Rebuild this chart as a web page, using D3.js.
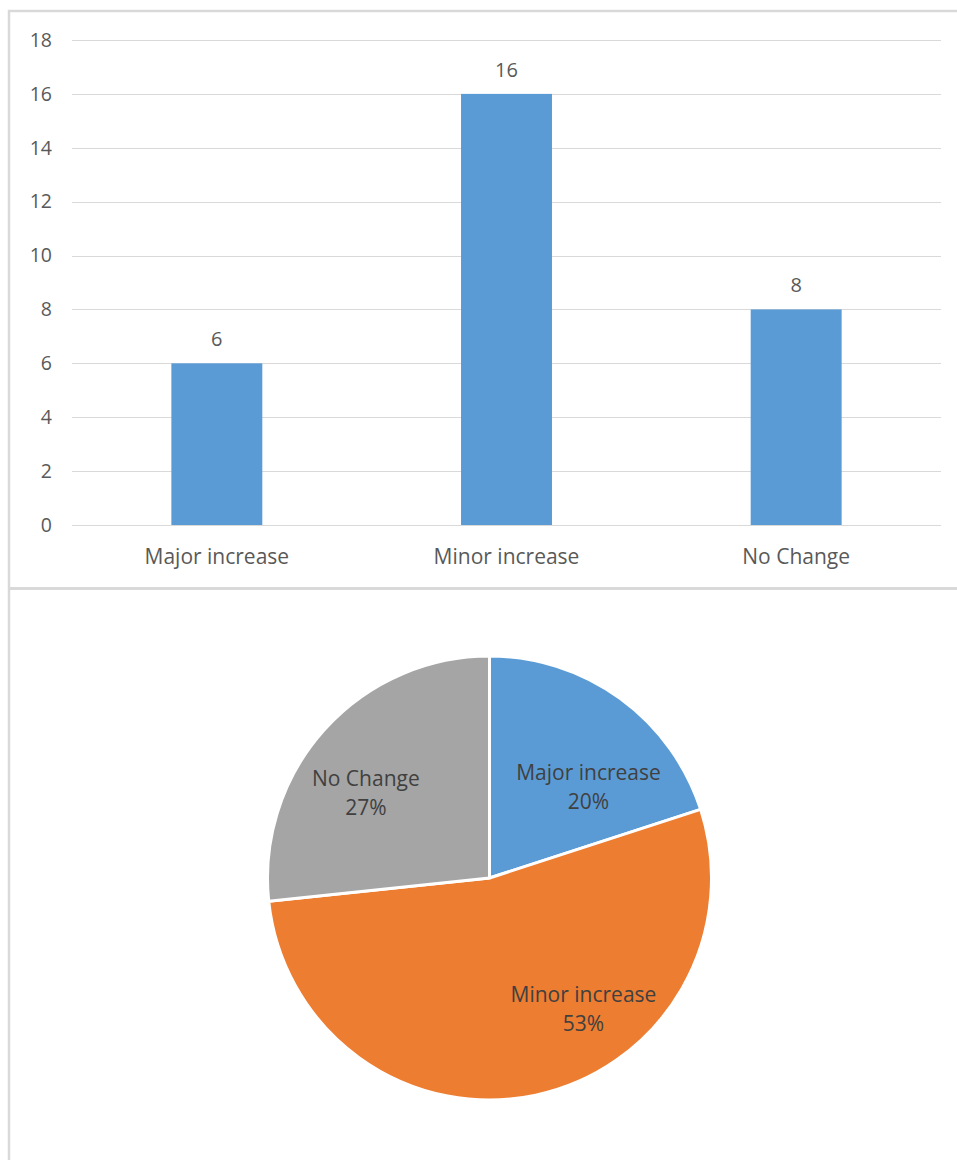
<!DOCTYPE html>
<html>
<head>
<meta charset="utf-8">
<script src="https://cdn.jsdelivr.net/npm/d3@7"></script>
<style>
  html, body { margin: 0; padding: 0; background: #ffffff; }
  svg { display: block; }
  text { font-family: "Open Sans", "Noto Sans", sans-serif; }
</style>
</head>
<body>
<svg id="chart" width="957" height="1160"></svg>
<script>
// Survey responses per category
const categories = ["Major increase", "Minor increase", "No Change"];
const counts = [6, 16, 8];
const yTicks = [0, 2, 4, 6, 8, 10, 12, 14, 16, 18];
const sliceColors = ["#5b9bd5", "#ed7d31", "#a5a5a5"];

// Label placement inside each pie slice (angle in degrees clockwise from 12 o'clock, radius fraction)
const pieLabelAngle = [47, 144, 305];
const pieLabelRadius = [0.61, 0.72, 0.68];

const svg = d3.select("#chart");
const textColor = "#595959";
const frameColor = "#d9d9d9";
const fontStack = "\"Open Sans\", \"Noto Sans\", sans-serif";

// Panel frames
svg.append("path")
  .attr("d", "M9,1160 V11 H957")
  .attr("fill", "none").attr("stroke", frameColor).attr("stroke-width", 2.5);
svg.append("line")
  .attr("x1", 9).attr("x2", 957).attr("y1", 588.5).attr("y2", 588.5)
  .attr("stroke", frameColor).attr("stroke-width", 3);

// ---- Column chart ----
const plot = { left: 72, right: 941, top: 40, bottom: 525 };

const x = d3.scaleBand()
  .domain(categories)
  .range([plot.left, plot.right])
  .paddingInner(0.686)
  .paddingOuter(0.343);

const y = d3.scaleLinear()
  .domain([0, 18])
  .range([plot.bottom, plot.top]);

const bar = svg.append("g");

// Gridlines
bar.append("g")
  .selectAll("line")
  .data(yTicks)
  .join("line")
  .attr("x1", plot.left).attr("x2", plot.right)
  .attr("y1", d => Math.round(y(d)) + 0.5).attr("y2", d => Math.round(y(d)) + 0.5)
  .attr("stroke", frameColor).attr("stroke-width", 1);

// Y axis tick labels
const yAxis = d3.axisLeft(y).tickValues(yTicks).tickSize(0).tickPadding(0);
bar.append("g")
  .attr("transform", `translate(${plot.left - 20},0)`)
  .call(yAxis)
  .call(g => g.select(".domain").remove())
  .call(g => g.selectAll("text")
    .attr("fill", textColor)
    .attr("font-size", 19.5)
    .attr("font-family", fontStack));

// Bars
bar.append("g")
  .selectAll("rect")
  .data(counts)
  .join("rect")
  .attr("x", (d, i) => x(categories[i]))
  .attr("width", x.bandwidth())
  .attr("y", d => y(d))
  .attr("height", d => y(0) - y(d))
  .attr("fill", sliceColors[0]);

// Value labels
bar.append("g")
  .selectAll("text")
  .data(counts)
  .join("text")
  .attr("x", (d, i) => x(categories[i]) + x.bandwidth() / 2)
  .attr("y", d => y(d) - 24)
  .attr("dy", "0.35em")
  .attr("text-anchor", "middle")
  .attr("font-size", 20)
  .attr("fill", textColor)
  .text(d => d);

// X axis category labels
const xAxis = d3.axisBottom(x).tickSize(0).tickPadding(0);
bar.append("g")
  .attr("transform", `translate(0,${plot.bottom + 24})`)
  .call(xAxis)
  .call(g => g.select(".domain").remove())
  .call(g => g.selectAll("text")
    .attr("fill", textColor)
    .attr("font-size", 21)
    .attr("font-family", fontStack));

// ---- Pie chart ----
const cx = 489.5, cy = 878, R = 222;
const total = d3.sum(counts);

const pie = d3.pie().sort(null).value(d => d);
const arcs = pie(counts);
const arc = d3.arc().innerRadius(0).outerRadius(R);

const pg = svg.append("g").attr("transform", `translate(${cx},${cy})`);

pg.selectAll("path")
  .data(arcs)
  .join("path")
  .attr("d", arc)
  .attr("fill", (d, i) => sliceColors[i])
  .attr("stroke", "#ffffff")
  .attr("stroke-width", 3)
  .attr("stroke-linejoin", "round");

const labels = pg.selectAll("text.slice-label")
  .data(arcs)
  .join("text")
  .attr("class", "slice-label")
  .attr("text-anchor", "middle")
  .attr("font-size", 21)
  .attr("fill", "#404040")
  .attr("transform", (d, i) => {
    const a = pieLabelAngle[i] * Math.PI / 180;
    const r = pieLabelRadius[i] * R;
    return `translate(${r * Math.sin(a)},${-r * Math.cos(a)})`;
  });

labels.append("tspan")
  .attr("x", 0).attr("y", -13).attr("dy", "0.35em")
  .text((d, i) => categories[i]);
labels.append("tspan")
  .attr("x", 0).attr("y", 16).attr("dy", "0.35em")
  .text(d => Math.round(d.value / total * 100) + "%");
</script>
</body>
</html>
